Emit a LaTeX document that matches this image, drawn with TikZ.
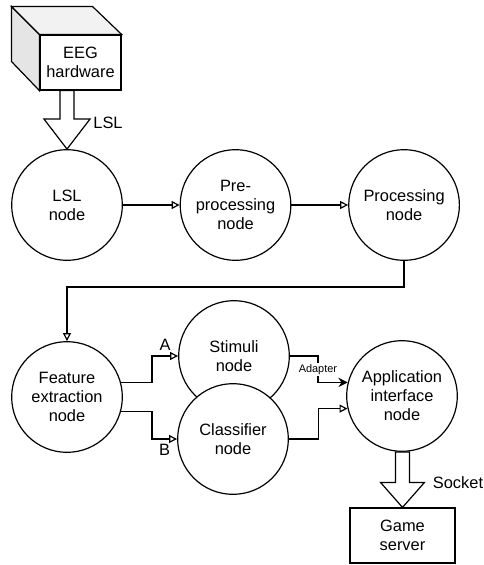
\documentclass[tikz,border=0pt]{standalone}
\usepackage{fontspec}
\setmainfont{Liberation Sans}
\usetikzlibrary{arrows.meta,positioning,calc}

\begin{document}
\begin{tikzpicture}[x=0.75pt, y=0.75pt, node distance=42.5pt and 42.5pt, line width=0.9pt, every node/.style={font=\fontsize{12.3}{14.3}\selectfont}, stage/.style={draw,circle,fill=white,minimum size=83pt,inner sep=0pt,align=center}, box/.style={draw,fill=white,inner sep=0pt,align=center,minimum width=78.75pt,minimum height=41.25pt}, arr/.style={-{Triangle[open,length=6pt,width=6pt]}}, fat/.style={draw,fill=white,line join=miter}]
\useasboundingbox (0,0) rectangle (484,-565);
% cube
\node[box,minimum width=60.75pt] (eeg) at (80.5,-62.5) {EEG\\hardware};
\draw[fill=black!10] (eeg.north west) -- ++(-28,28) -- ++(0,-55) -- (eeg.south west) -- cycle;
\draw[fill=black!5] (eeg.north west) -- ++(-28,28) -- ++(81,0) -- (eeg.north east) -- cycle;
% stages
\node[stage] (lsl) at (67,-205) {LSL\\node};
\node[stage,right=of lsl] (pre) {Pre-\\processing\\node};
\node[stage,right=of pre] (proc) {Processing\\node};
\node[stage] (feat) at (67,-397) {Feature\\extraction\\node};
\node[stage] (stim) at (234,-356) {Stimuli\\node};
\node[stage] (clas) at (233,-439) {Classifier\\node};
\node[stage] (app) at (402,-396) {Application\\interface\\node};
\node[box] (game) at (402.5,-535.5) {Game\\server};
% fat arrows
\draw[fat] (lsl.north) -- ++(-23,30) -- ++(16,0) -- ($(lsl.north |- eeg.south)+(-7,0)$) -- ++(14,0) -- ($(lsl.north)+(7,30)$) -- ++(16,0) -- cycle;
\node (lsltxt) at (108,-123) {LSL};
\draw[fat] (game.north) -- ++(-22,25) -- ++(15,0) -- ($(game.north |- app.south)+(-7,0)$) -- ++(14,0) -- ($(game.north)+(7,25)$) -- ++(15,0) -- cycle;
\node (socktxt) at (458,-483) {Socket};
% flow
\draw[arr] (lsl) -- (pre);
\draw[arr] (pre) -- (proc);
\draw[arr] (proc.south) -- ++(0,-26) -| (feat.north);
\draw[arr] (feat.15) -- ++(31,0) |- node[pos=0.75,above]{A} (stim.west);
\draw[arr] (feat.-15) -- ++(31,0) |- node[pos=0.75,below]{B} (clas.west);
\draw[-{Stealth[length=7pt,width=7pt]}] (stim.east) -- ++(28,0) |- node[pos=0.25,fill=white,inner sep=1pt,font=\fontsize{8.2}{9}\selectfont]{Adapter} (app.166);
\draw[arr] (clas.east) -- ++(29.5,0) |- (app.193);
\end{tikzpicture}
\end{document}
